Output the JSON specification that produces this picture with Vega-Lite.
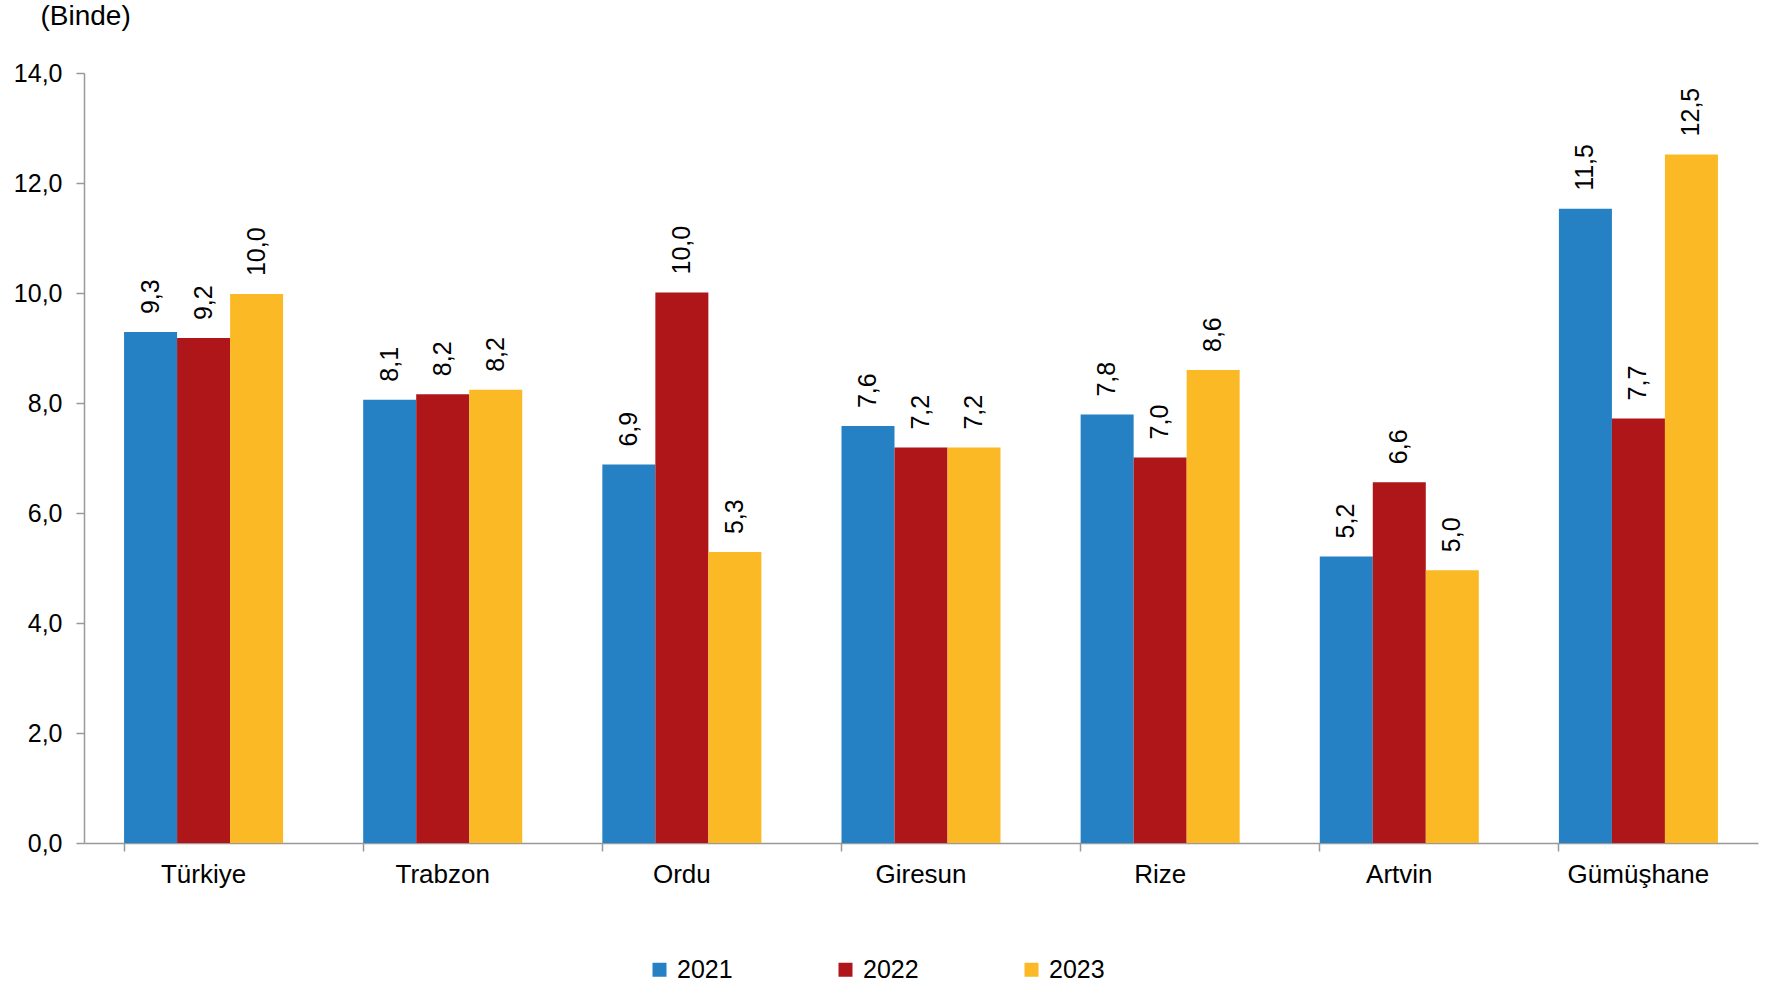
{
  "$schema": "https://vega.github.io/schema/vega-lite/v6.json",
  "width": 1674,
  "height": 770,
  "autosize": "none",
  "padding": {"left": 84, "top": 73, "right": 10, "bottom": 141},
  "background": "white",
  "config": {
    "font": "Liberation Sans",
    "view": {"stroke": null},
    "locale": {"number": {"decimal": ",", "thousands": ".", "grouping": [3], "currency": ["", " TL"]}}
  },
  "data": {
    "values": [
      {"il": "Türkiye", "yil": "2021", "deger": 9.29},
      {"il": "Türkiye", "yil": "2022", "deger": 9.18},
      {"il": "Türkiye", "yil": "2023", "deger": 9.98},
      {"il": "Trabzon", "yil": "2021", "deger": 8.06},
      {"il": "Trabzon", "yil": "2022", "deger": 8.16},
      {"il": "Trabzon", "yil": "2023", "deger": 8.24},
      {"il": "Ordu", "yil": "2021", "deger": 6.88},
      {"il": "Ordu", "yil": "2022", "deger": 10.01},
      {"il": "Ordu", "yil": "2023", "deger": 5.29},
      {"il": "Giresun", "yil": "2021", "deger": 7.58},
      {"il": "Giresun", "yil": "2022", "deger": 7.19},
      {"il": "Giresun", "yil": "2023", "deger": 7.19},
      {"il": "Rize", "yil": "2021", "deger": 7.79},
      {"il": "Rize", "yil": "2022", "deger": 7.01},
      {"il": "Rize", "yil": "2023", "deger": 8.6},
      {"il": "Artvin", "yil": "2021", "deger": 5.21},
      {"il": "Artvin", "yil": "2022", "deger": 6.56},
      {"il": "Artvin", "yil": "2023", "deger": 4.96},
      {"il": "Gümüşhane", "yil": "2021", "deger": 11.53},
      {"il": "Gümüşhane", "yil": "2022", "deger": 7.72},
      {"il": "Gümüşhane", "yil": "2023", "deger": 12.52}
    ]
  },
  "encoding": {
    "x": {
      "field": "il", "type": "nominal", "sort": null,
      "scale": {"paddingInner": 0.335, "paddingOuter": 0.1675},
      "axis": {
        "title": null, "labelAngle": 0, "labelFontSize": 26, "labelColor": "#000000",
        "labelPadding": 10, "bandPosition": 0, "tickSize": 8, "tickColor": "#999999",
        "domainColor": "#999999", "domainWidth": 1.5, "tickWidth": 1.5
      }
    },
    "xOffset": {"field": "yil", "type": "nominal"},
    "y": {
      "field": "deger", "type": "quantitative",
      "scale": {"domain": [0, 14]},
      "axis": {
        "values": [0, 2, 4, 6, 8, 10, 12, 14], "format": ".1f", "grid": false,
        "labelFontSize": 25, "labelColor": "#000000", "labelPadding": 14,
        "tickSize": 8, "tickColor": "#999999", "domainColor": "#999999",
        "domainWidth": 1.5, "tickWidth": 1.5,
        "title": "(Binde)", "titleAngle": 0, "titleAlign": "left", "titleBaseline": "alphabetic",
        "titleX": -44, "titleY": -49, "titleFontSize": 28, "titleFontWeight": "normal", "titleColor": "#000000"
      }
    }
  },
  "layer": [
    {
      "mark": {"type": "bar"},
      "encoding": {
        "color": {
          "field": "yil", "type": "nominal",
          "scale": {"domain": ["2021", "2022", "2023"], "range": ["#2580C4", "#AF1619", "#FBB925"]},
          "legend": {
            "title": null, "orient": "none", "direction": "horizontal",
            "legendX": 563, "legendY": 884, "symbolType": "square", "symbolSize": 196,
            "labelFontSize": 25, "labelColor": "#000000", "labelOffset": 5, "columnPadding": 100
          }
        }
      }
    },
    {
      "mark": {"type": "text", "angle": 270, "align": "left", "baseline": "middle", "dx": 18, "fontSize": 25, "color": "#000000"},
      "encoding": {
        "text": {"field": "deger", "type": "quantitative", "format": ".1f"}
      }
    }
  ]
}
